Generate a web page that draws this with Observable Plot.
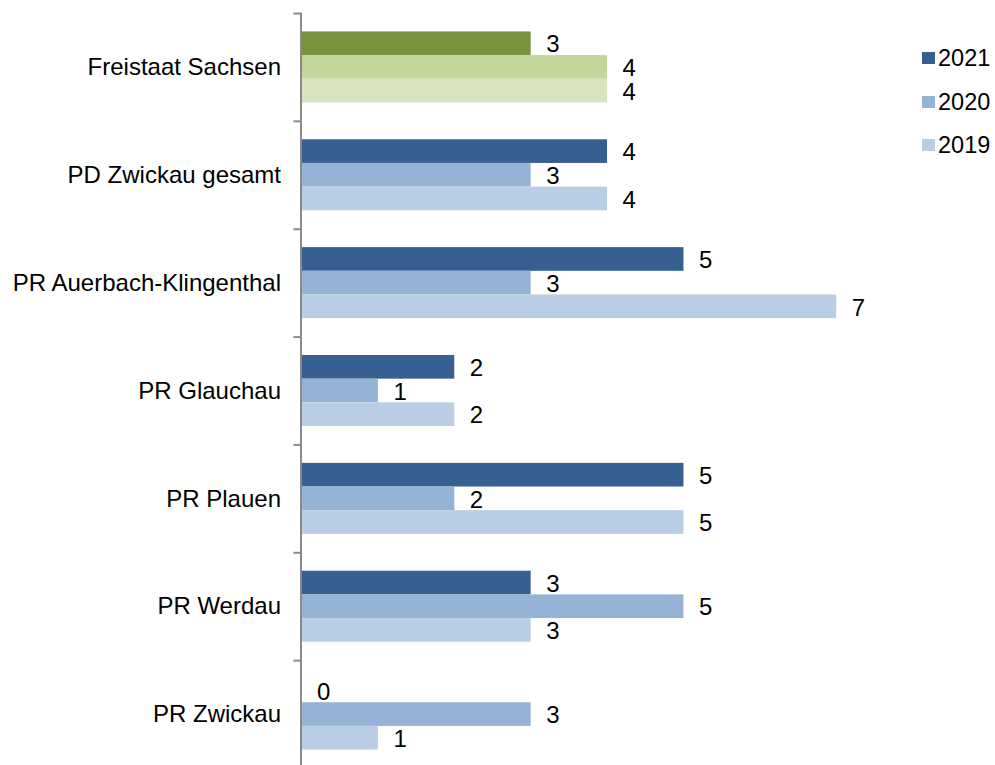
<!DOCTYPE html>
<html><head><meta charset="utf-8">
<script src="https://cdn.jsdelivr.net/npm/d3@7"></script>
<script src="https://cdn.jsdelivr.net/npm/@observablehq/plot@0.6"></script>
<style>
html,body{margin:0;padding:0;background:#fff;overflow:hidden}
#wrap{position:relative;width:995px;height:765px;overflow:hidden;font-family:"Liberation Sans",Arial,sans-serif}
#chart svg{display:block}
#legend{position:absolute;left:0;top:0}
.item{position:absolute;left:922px;height:28px;display:flex;align-items:center;white-space:nowrap;font-size:23.5px;color:#000}
.sw{width:13px;height:12px;margin-right:3px}
</style></head><body><div id="wrap"><div id="chart"></div><div id="legend"></div></div>
<script>
const categories = ["Freistaat Sachsen","PD Zwickau gesamt","PR Auerbach-Klingenthal","PR Glauchau","PR Plauen","PR Werdau","PR Zwickau"];
const years = ["2021","2020","2019"];
const values2021 = [3,4,5,2,5,3,0];
const values2020 = [4,3,3,1,2,5,3];
const values2019 = [4,4,7,2,5,3,1];
const blues = ["#376092","#95B3D7","#B9CDE5"];
const greens = ["#77933C","#C3D69B","#D7E4BD"];

const series = [values2021, values2020, values2019];
const rows = [];
categories.forEach((c, i) => {
  years.forEach((y, j) => {
    rows.push({category: c, year: y, value: series[j][i], fill: (i === 0 ? greens : blues)[j]});
  });
});

const H = 768, MT = 13, MB = 0;
const step = (H - MT - MB) / categories.length;

const chart = Plot.plot({
  width: 995, height: H,
  marginLeft: 301.5, marginRight: 6, marginTop: MT, marginBottom: MB,
  style: {fontFamily: '"Liberation Sans", Arial, sans-serif', fontSize: "24px", color: "#000", background: "transparent"},
  x: {domain: [0, 9], axis: null},
  y: {domain: years, axis: null, paddingInner: 0, paddingOuter: 0.778, round: false},
  fy: {domain: categories, padding: 0, axis: null, round: false},
  color: {type: "identity"},
  marks: [
    Plot.barX(rows, {fy: "category", y: "year", x: "value", fill: "fill"}),
    Plot.text(rows, {fy: "category", y: "year", x: "value", text: d => String(d.value), dx: 15, dy: 1, textAnchor: "start", fill: "#000"}),
    Plot.ruleX([0], {stroke: "#8a8a8a", strokeWidth: 2, dx: -1}),
    Plot.axisFy({anchor: "left", tickSize: 0, tickPadding: 21, label: null, fill: "#000"}),
    Plot.axisFy({anchor: "left", tickSize: 8, tickFormat: () => "", dy: -step / 2, label: null, stroke: "#8a8a8a", strokeWidth: 2})
  ]
});
document.getElementById("chart").appendChild(chart);

const legend = document.getElementById("legend");
const legendCenters = [58, 102, 145];
years.forEach((y, j) => {
  const item = document.createElement("div");
  item.className = "item";
  item.style.top = (legendCenters[j] - 14) + "px";
  const sw = document.createElement("span");
  sw.className = "sw";
  sw.style.background = blues[j];
  item.appendChild(sw);
  item.appendChild(document.createTextNode(y));
  legend.appendChild(item);
});
</script></body></html>
